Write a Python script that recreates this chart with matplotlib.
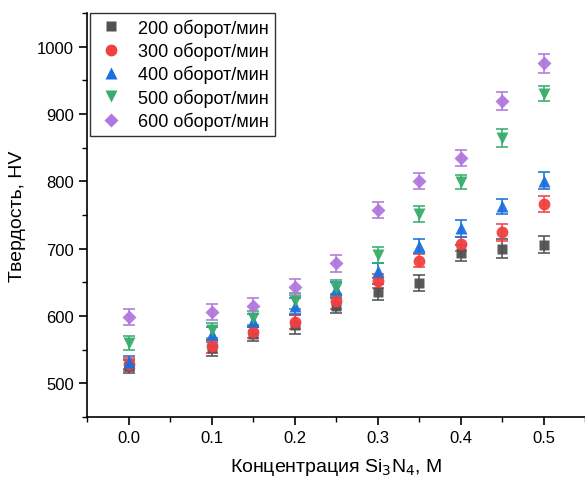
import matplotlib
matplotlib.use('agg')
import matplotlib.pyplot as plt
from matplotlib.ticker import MultipleLocator
from matplotlib.lines import Line2D

plt.rcParams['font.family'] = ['Liberation Sans', 'DejaVu Sans']

conc = [0.0, 0.1, 0.15, 0.2, 0.25, 0.3, 0.35, 0.4, 0.45, 0.5]

hv_200 = [525, 552, 573, 587, 615, 636, 649, 693, 700, 706]
hv_300 = [528, 555, 576, 591, 622, 652, 682, 707, 724, 766]
hv_400 = [531, 573, 593, 615, 640, 667, 704, 730, 763, 801]
hv_500 = [560, 579, 597, 622, 642, 690, 751, 799, 864, 930]
hv_600 = [599, 606, 615, 643, 678, 757, 800, 834, 919, 975]

err_200 = [10, 12, 10, 14, 11, 12, 12, 12, 14, 13]
err_300 = [10, 10, 9, 10, 11, 11, 10, 10, 12, 12]
err_400 = [9, 11, 10, 12, 11, 11, 11, 12, 11, 13]
err_500 = [11, 11, 10, 12, 11, 12, 12, 11, 13, 11]
err_600 = [12, 12, 12, 12, 12, 12, 12, 12, 13, 14]

labels = ['200 оборот/мин', '300 оборот/мин', '400 оборот/мин',
          '500 оборот/мин', '600 оборот/мин']
colors = ['#515151', '#F14040', '#1A6FDF', '#37AD6B', '#B177DE']
markers = ['s', 'o', '^', 'v', 'D']
sizes = [7.5, 8.5, 9, 9, 7.5]

fig = plt.figure(figsize=(5.85, 4.81), dpi=100)
ax = fig.add_axes([0.149, 0.131, 0.851, 0.84])

series = [(hv_200, err_200), (hv_300, err_300), (hv_400, err_400),
          (hv_500, err_500), (hv_600, err_600)]
handles = []
for (y, e), lab, c, m, s in zip(series, labels, colors, markers, sizes):
    ax.errorbar(conc, y, yerr=e, fmt=m, color=c, ms=s, mec='none',
                ecolor=c, elinewidth=1.2, capsize=4, capthick=1.2,
                alpha=0.95)
    handles.append(Line2D([], [], linestyle='none', marker=m, color=c,
                          ms=s, mec='none', label=lab))

ax.set_xlim(-0.05, 0.55)
ax.set_ylim(450, 1050)
ax.xaxis.set_minor_locator(MultipleLocator(0.05))
ax.yaxis.set_minor_locator(MultipleLocator(50))
ax.set_xticks([0.0, 0.1, 0.2, 0.3, 0.4, 0.5])
ax.set_xticklabels(['0.0', '0.1', '0.2', '0.3', '0.4', '0.5'])
ax.set_yticks([500, 600, 700, 800, 900, 1000])

ax.spines['top'].set_visible(False)
ax.spines['right'].set_visible(False)
ax.spines['left'].set_linewidth(1.2)
ax.spines['bottom'].set_linewidth(1.2)
ax.tick_params(which='major', direction='out', length=6, width=1.2, labelsize=12)
ax.tick_params(which='minor', direction='out', length=3.5, width=1.0)

ax.set_xlabel('Концентрация Si$_3$N$_4$, М', fontsize=14, labelpad=8)
ax.set_ylabel('Твердость, HV', fontsize=14, labelpad=8)

leg = ax.legend(handles=handles, loc='upper left', bbox_to_anchor=(0.005, 1.0),
                fontsize=13, frameon=True, fancybox=False, borderaxespad=0,
                handletextpad=0.6, labelspacing=0.28, borderpad=0.3,
                handlelength=1.8)
leg.get_frame().set_edgecolor('black')
leg.get_frame().set_linewidth(1.0)

plt.savefig('out.png', dpi=100)
plt.close()
